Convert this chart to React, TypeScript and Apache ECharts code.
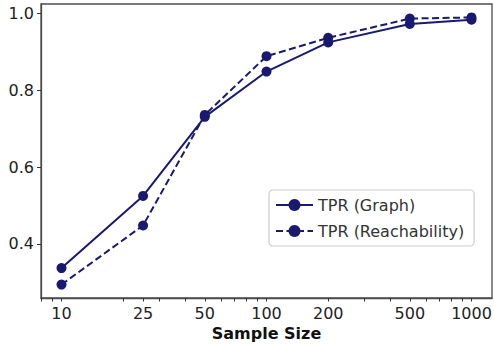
import React, { useEffect, useRef } from "react";
import * as echarts from "echarts";

const sampleSizes = [10, 25, 50, 100, 200, 500, 1000];
const tprGraph = [0.337, 0.525, 0.731, 0.849, 0.925, 0.973, 0.984];
const tprReach = [0.294, 0.448, 0.736, 0.889, 0.937, 0.987, 0.99];
const xMinorTicks = [8, 9, 20, 30, 40, 60, 70, 80, 90, 300, 400, 600, 700, 800, 900];
const yTicks = [0.4, 0.6, 0.8, 1.0];

const COLOR = "#191970";
const AXIS = "#4d4d4d";
const FONT = "DejaVu Sans";

export default function App() {
  const ref = useRef<HTMLDivElement>(null);
  useEffect(() => {
    if (!ref.current) return;
    const chart = echarts.init(ref.current, null, { renderer: "svg" });
    chart.setOption({
      animation: false,
      backgroundColor: "#fff",
      grid: { left: 41, right: 2, top: 4, bottom: 47, containLabel: false, outerBoundsMode: "none", show: true, borderColor: AXIS, borderWidth: 1.3, backgroundColor: "transparent" },
      legend: {
        orient: "vertical",
        left: 269,
        top: 190,
        padding: [7, 10, 7, 6],
        itemWidth: 37,
        itemHeight: 15,
        itemGap: 10,
        borderColor: "#cccccc",
        borderWidth: 1.2,
        borderRadius: 4,
        backgroundColor: "rgba(255,255,255,0.8)",
        textStyle: { fontFamily: FONT, fontSize: 16, color: "#333" },
        data: ["TPR (Graph)", "TPR (Reachability)"],
      },
      xAxis: {
        type: "log",
        min: 7.943,
        max: 1258.9,
        logBase: 10,
        splitLine: { show: false },
        minorTick: { show: false },
        name: "Sample Size",
        nameLocation: "middle",
        nameGap: 26,
        nameTextStyle: { fontFamily: FONT, fontSize: 16, fontWeight: "bold", color: "#111" },
        axisLine: { show: true, lineStyle: { color: AXIS, width: 1.3 } },
        axisTick: { show: true, length: 3.5, customValues: [...sampleSizes, ...xMinorTicks].sort((a, b) => a - b), lineStyle: { color: "#333", width: 1 } },
        axisLabel: { customValues: sampleSizes, fontFamily: FONT, fontSize: 16, color: "#222", margin: 7, formatter: (v: number) => String(Math.round(v)) },
      },
      yAxis: {
        type: "value",
        min: 0.259,
        max: 1.025,
        splitLine: { show: false },
        axisLine: { show: true, lineStyle: { color: AXIS, width: 1.3 } },
        axisTick: { show: true, length: 4, customValues: yTicks, lineStyle: { color: "#333", width: 1 } },
        axisLabel: { customValues: yTicks, fontFamily: FONT, fontSize: 16, color: "#222", margin: 7, formatter: (v: number) => v.toFixed(1) },
      },
      series: [
        {
          name: "TPR (Graph)",
          type: "line",
          data: sampleSizes.map((s, i) => [s, tprGraph[i]]),
          symbol: "circle",
          symbolSize: 10,
          lineStyle: { color: COLOR, width: 2 },
          itemStyle: { color: COLOR },
          z: 3,
        },
        {
          name: "TPR (Reachability)",
          type: "line",
          data: sampleSizes.map((s, i) => [s, tprReach[i]]),
          symbol: "circle",
          symbolSize: 10,
          lineStyle: { color: COLOR, width: 2, type: [7, 3.5] },
          itemStyle: { color: COLOR },
          z: 2,
        },
      ],
    });
    return () => chart.dispose();
  }, []);
  return <div ref={ref} style={{ width: 494, height: 345, position: "absolute", left: 0, top: 0 }} />;
}
